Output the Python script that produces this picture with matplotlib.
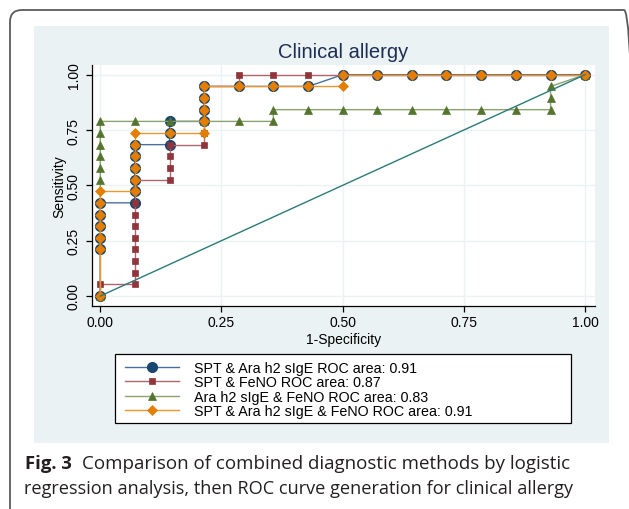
import matplotlib
matplotlib.use("Agg")
import matplotlib.pyplot as plt
from matplotlib.patches import FancyBboxPatch, Rectangle

# ---------------- data ----------------
title = "Clinical allergy"
xlabel = "1-Specificity"
ylabel = "Sensitivity"
tick_values = [0.0, 0.25, 0.5, 0.75, 1.0]
tick_labels = ["0.00", "0.25", "0.50", "0.75", "1.00"]

# SPT & Ara h2 sIgE  (ROC area 0.91)
spt_ara_x = [0, 0, 0, 0, 0, 0, 0.071, 0.071, 0.071, 0.071, 0.071, 0.071,
             0.143, 0.143, 0.143, 0.214, 0.214, 0.214, 0.214, 0.286, 0.357,
             0.429, 0.5, 0.571, 0.643, 0.714, 0.786, 0.857, 0.929, 1.0]
spt_ara_y = [0, 0.211, 0.263, 0.316, 0.368, 0.421, 0.421, 0.474, 0.526, 0.579,
             0.632, 0.684, 0.684, 0.737, 0.789, 0.789, 0.842, 0.895, 0.947,
             0.947, 0.947, 0.947, 1.0, 1.0, 1.0, 1.0, 1.0, 1.0, 1.0, 1.0]

# SPT & FeNO  (ROC area 0.87)
spt_feno_x = [0, 0, 0.071, 0.071, 0.071, 0.071, 0.071, 0.071, 0.071, 0.071,
              0.071, 0.071, 0.143, 0.143, 0.143, 0.143, 0.214, 0.214, 0.214,
              0.214, 0.214, 0.214, 0.286, 0.286, 0.357, 0.429, 0.5, 0.571,
              0.643, 0.714, 0.786, 0.857, 0.929, 1.0]
spt_feno_y = [0, 0.053, 0.053, 0.105, 0.158, 0.211, 0.263, 0.316, 0.368, 0.421,
              0.474, 0.526, 0.526, 0.579, 0.632, 0.684, 0.684, 0.737, 0.789,
              0.842, 0.895, 0.947, 0.947, 1.0, 1.0, 1.0, 1.0, 1.0, 1.0, 1.0,
              1.0, 1.0, 1.0, 1.0]

# Ara h2 sIgE & FeNO  (ROC area 0.83)
ara_feno_x = [0, 0, 0, 0, 0, 0, 0, 0.071, 0.143, 0.214, 0.286, 0.357, 0.357,
              0.429, 0.5, 0.571, 0.643, 0.714, 0.786, 0.857, 0.929, 0.929,
              0.929, 1.0]
ara_feno_y = [0, 0.526, 0.579, 0.632, 0.684, 0.737, 0.789, 0.789, 0.789, 0.789,
              0.789, 0.789, 0.842, 0.842, 0.842, 0.842, 0.842, 0.842, 0.842,
              0.842, 0.842, 0.895, 0.947, 1.0]

# SPT & Ara h2 sIgE & FeNO  (ROC area 0.91)
all3_x = [0, 0, 0, 0, 0, 0, 0, 0.071, 0.071, 0.071, 0.071, 0.071, 0.071,
          0.143, 0.214, 0.214, 0.214, 0.214, 0.214, 0.286, 0.357, 0.429, 0.5,
          0.5, 0.571, 0.643, 0.714, 0.786, 0.857, 0.929, 1.0]
all3_y = [0, 0.211, 0.263, 0.316, 0.368, 0.421, 0.474, 0.474, 0.526, 0.579,
          0.632, 0.684, 0.737, 0.737, 0.737, 0.789, 0.842, 0.895, 0.947, 0.947,
          0.947, 0.947, 0.947, 1.0, 1.0, 1.0, 1.0, 1.0, 1.0, 1.0, 1.0]

ref_x = [0.0, 1.0]
ref_y = [0.0, 1.0]

legend_labels = [
    "SPT & Ara h2 sIgE ROC area: 0.91",
    "SPT & FeNO ROC area: 0.87",
    "Ara h2 sIgE & FeNO ROC area: 0.83",
    "SPT & Ara h2 sIgE & FeNO ROC area: 0.91",
]
caption_bold = "Fig. 3"
caption_line1 = "Comparison of combined diagnostic methods by logistic"
caption_line2 = "regression analysis, then ROC curve generation for clinical allergy"

# ---------------- styling ----------------
plt.rcParams['font.family'] = ['Liberation Sans', 'DejaVu Sans']
W, H = 629, 510
fig = plt.figure(figsize=(W / 100, H / 100), dpi=100, facecolor="white")

def fx(px):
    return px / W

def fy(py):
    return 1 - py / H

# outer rounded border (journal frame) and stata panel
border = FancyBboxPatch((0.10, -0.30), 6.26, 5.29,
                        boxstyle="round,pad=0,rounding_size=0.12",
                        transform=fig.dpi_scale_trans, facecolor="none",
                        edgecolor="#5a5a5a", linewidth=1.3, zorder=0)
fig.patches.append(border)
panel = Rectangle((0.34, (H - 444) / 100), 5.75, (444 - 27) / 100,
                  transform=fig.dpi_scale_trans, facecolor="#eaf2f3",
                  edgecolor="none", zorder=0)
fig.patches.append(panel)

ax_l, ax_r, ax_t, ax_b = 91.7, 595, 66, 306.7
ax = fig.add_axes([fx(ax_l), fy(ax_b), fx(ax_r - ax_l), (ax_b - ax_t) / H])
ax.set_zorder(2)
ax.set_facecolor("white")

x0, x1 = 100.3, 585.0
y0, y1 = 297.0, 75.7
sx = (x1 - x0)
sy = (y0 - y1)
ax.set_xlim((ax_l - x0) / sx, (ax_r - x0) / sx)
ax.set_ylim((y0 - ax_b) / sy, (y0 - ax_t) / sy)

for s in ["top", "right"]:
    ax.spines[s].set_visible(False)
for s in ["left", "bottom"]:
    ax.spines[s].set_linewidth(0.9)
    ax.spines[s].set_color("black")

ax.set_xticks(tick_values)
ax.set_xticklabels(tick_labels)
ax.set_yticks(tick_values)
ax.set_yticklabels(tick_labels, rotation=90, va="center")
ax.tick_params(axis="both", direction="out", length=4, width=0.9,
               labelsize=10, colors="black")
ax.tick_params(axis="x", pad=3)
ax.tick_params(axis="y", pad=4)
ax.grid(True, color="#eaf2f3", linewidth=1.0)
ax.set_axisbelow(True)

ax.set_xlabel(xlabel, fontsize=10, labelpad=2)
ax.set_ylabel(ylabel, fontsize=10, labelpad=0)

h1, = ax.plot(spt_ara_x, spt_ara_y, color="#4a709a", lw=1.0, marker="o",
              ms=7.2, mfc="#1a476f", mec="#1a476f", mew=0.8, zorder=3)
h2, = ax.plot(spt_feno_x, spt_feno_y, color="#b0656b", lw=1.0, marker="s",
              ms=5.0, mfc="#90353b", mec="#90353b", mew=0.5, zorder=4)
h3, = ax.plot(ara_feno_x, ara_feno_y, color="#8aa36e", lw=1.0, marker="^",
              ms=6.3, mfc="#55752f", mec="#55752f", mew=0.5, zorder=5)
h4, = ax.plot(all3_x, all3_y, color="#ec962f", lw=1.0, marker="D",
              ms=4.6, mfc="#e37e00", mec="#e37e00", mew=0.5, zorder=6)
ax.plot(ref_x, ref_y, color="#2b7b76", lw=1.0, zorder=7)

fig.text(fx(343), fy(53), title, fontsize=14.5, color="#1e2d53",
         ha="center", va="center")

# legend
leg_box = Rectangle((fx(115), fy(424)), fx(571 - 115), (424 - 355) / H,
                    transform=fig.transFigure, facecolor="white",
                    edgecolor="black", linewidth=0.9, zorder=1)
fig.patches.append(leg_box)
leg = fig.legend([h1, h2, h3, h4], legend_labels, loc="upper left",
                 bbox_to_anchor=(fx(125), fy(362)), frameon=False,
                 fontsize=10.3, borderpad=0, borderaxespad=0,
                 handlelength=3.8, handletextpad=1.0, labelspacing=0.03)
leg.set_zorder(3)

# caption
cap_font = "Open Sans"
t_b = fig.text(fx(25), fy(469), caption_bold, fontsize=13.3, fontweight="bold",
               family=cap_font, color="#231f20", ha="left", va="baseline")
fig.canvas.draw()
bb = t_b.get_window_extent()
fig.text((bb.x1 + 10) / W, fy(469), caption_line1, fontsize=13.5,
         family=cap_font, color="#231f20", ha="left", va="baseline")
fig.text(fx(24), fy(494), caption_line2, fontsize=13.1,
         family=cap_font, color="#231f20", ha="left", va="baseline")

fig.savefig("out.png", dpi=100, facecolor="white")
